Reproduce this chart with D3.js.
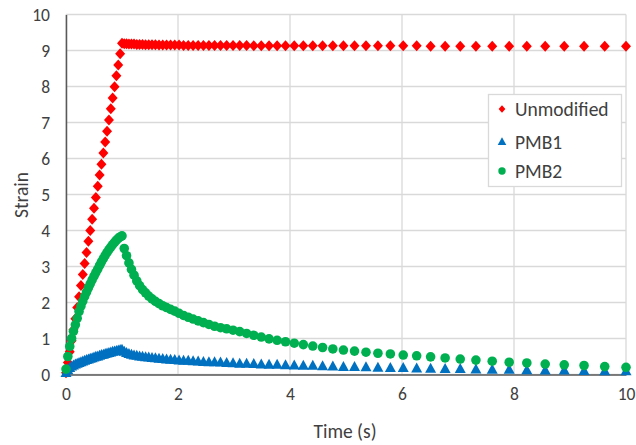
<!DOCTYPE html>
<html><head><meta charset="utf-8">
<script src="https://cdn.jsdelivr.net/npm/d3@7"></script>
<style>
body{margin:0;background:#fff;}
text{font-family:Carlito,Calibri,Lato,"Noto Sans",sans-serif;}
</style></head>
<body><svg id="c" width="636" height="445"></svg>
<script>
// ---- data ----
const time = [0,0.033,0.067,0.1,0.133,0.167,0.2,0.233,0.267,0.3,0.333,0.367,0.4,0.433,0.467,0.5,0.533,0.567,0.6,0.633,0.667,0.7,0.733,0.767,0.8,0.833,0.867,0.9,0.933,0.967,
  1,1.04,1.081,1.124,1.169,1.215,1.264,1.314,1.366,1.421,1.477,1.536,1.597,1.661,1.727,1.796,1.867,1.942,2.019,2.099,2.183,2.27,2.36,2.454,2.552,2.653,2.759,2.869,2.983,3.102,3.225,3.353,3.487,3.626,3.77,3.92,4.076,4.238,4.407,4.582,4.765,4.954,5.152,5.357,5.57,5.792,6.022,6.262,6.511,6.77,7.04,7.32,7.611,7.914,8.229,8.557,8.897,9.251,9.62,10];
const unmodified = [0.05,0.33,0.63,0.94,1.24,1.55,1.86,2.16,2.47,2.78,3.08,3.39,3.7,4.0,4.31,4.62,4.92,5.23,5.54,5.84,6.15,6.46,6.76,7.07,7.38,7.68,7.99,8.3,8.6,8.91,
  9.2,9.19,9.19,9.18,9.18,9.18,9.17,9.17,9.17,9.16,9.16,9.16,9.16,9.15,9.15,9.15,9.15,9.15,9.15,9.14,9.14,9.14,9.14,9.14,9.14,9.14,9.14,9.14,9.14,9.14,9.14,9.13,9.13,9.13,9.13,9.13,9.13,9.13,9.13,9.13,9.13,9.13,9.13,9.13,9.13,9.13,9.13,9.13,9.12,9.12,9.12,9.12,9.12,9.12,9.12,9.12,9.12,9.12,9.12,9.12];
const pmb1 = [0.04,0.12,0.18,0.22,0.25,0.28,0.3,0.32,0.34,0.36,0.38,0.4,0.42,0.44,0.45,0.47,0.49,0.5,0.52,0.54,0.55,0.57,0.58,0.6,0.61,0.63,0.64,0.65,0.67,0.68,
  0.69,0.63,0.6,0.57,0.55,0.53,0.52,0.5,0.49,0.48,0.47,0.46,0.45,0.44,0.43,0.42,0.41,0.4,0.39,0.38,0.38,0.37,0.36,0.35,0.34,0.34,0.33,0.32,0.31,0.3,0.3,0.29,0.28,0.27,0.27,0.26,0.25,0.24,0.24,0.23,0.22,0.21,0.21,0.2,0.19,0.18,0.18,0.17,0.16,0.15,0.15,0.14,0.13,0.13,0.12,0.11,0.11,0.1,0.09,0.09];
const pmb2 = [0.15,0.5,0.78,1.0,1.2,1.38,1.56,1.75,1.9,2.04,2.17,2.29,2.41,2.52,2.63,2.73,2.83,2.93,3.03,3.13,3.22,3.31,3.39,3.47,3.54,3.61,3.67,3.73,3.78,3.82,
  3.85,3.5,3.3,3.1,2.92,2.76,2.6,2.47,2.36,2.27,2.18,2.1,2.03,1.97,1.91,1.86,1.81,1.76,1.7,1.64,1.59,1.54,1.49,1.44,1.39,1.34,1.3,1.27,1.23,1.19,1.14,1.09,1.04,0.99,0.95,0.91,0.87,0.83,0.79,0.75,0.71,0.68,0.65,0.62,0.59,0.57,0.54,0.52,0.49,0.46,0.43,0.4,0.37,0.34,0.32,0.29,0.27,0.25,0.22,0.2];
const seriesNames = ["Unmodified","PMB1","PMB2"];
const seriesColors = ["#ff0000","#0070c0","#00b050"];
const xTicks = [0,2,4,6,8,10];
const yTicks = [0,1,2,3,4,5,6,7,8,9,10];
const xTitle = "Time (s)", yTitle = "Strain";

const svg = d3.select("#c");
const x = d3.scaleLinear().domain([0,10]).range([66,626]);
const y = d3.scaleLinear().domain([0,10]).range([374.5,14.5]);

// gridlines
svg.append("g").selectAll("line").data(yTicks).join("line")
  .attr("x1",x(0)).attr("x2",x(10)).attr("y1",d=>y(d)).attr("y2",d=>y(d))
  .attr("stroke","#d9d9d9").attr("stroke-width",1.3);
svg.append("g").selectAll("line").data(xTicks).join("line")
  .attr("y1",y(0)).attr("y2",y(10)).attr("x1",d=>x(d)).attr("x2",d=>x(d))
  .attr("stroke","#d9d9d9").attr("stroke-width",1.3);

// axes
const gx = svg.append("g").attr("transform",`translate(0,${y(0)})`)
  .call(d3.axisBottom(x).tickValues(xTicks).tickSize(0).tickPadding(13).tickFormat(d3.format("d")));
const gy = svg.append("g").attr("transform",`translate(${x(0)},0)`)
  .call(d3.axisLeft(y).tickValues(yTicks).tickSize(0).tickPadding(16).tickFormat(d3.format("d")));
[gx,gy].forEach(g=>{
  g.select(".domain").attr("stroke","#595959").attr("stroke-width",1.5);
  g.selectAll("text").attr("font-size","17.5px").attr("fill","#404040");
});

// markers
const diamond = "M0,-5.5L5,0L0,5.5L-5,0Z";
const tri = "M0,-6L5.5,4L-5.5,4Z";
const data = [unmodified,pmb1,pmb2];
const shapes = [diamond,tri,null];
data.forEach((vals,si)=>{
  const g = svg.append("g");
  const pts = time.map((t,i)=>({t,v:vals[i]}));
  if(shapes[si]){
    g.selectAll("path").data(pts).join("path")
      .attr("d",shapes[si]).attr("fill",seriesColors[si])
      .attr("transform",d=>`translate(${x(d.t)},${y(d.v)})`);
  } else {
    g.selectAll("circle").data(pts).join("circle")
      .attr("cx",d=>x(d.t)).attr("cy",d=>y(d.v)).attr("r",4.8).attr("fill",seriesColors[si]);
  }
});

// axis titles
svg.append("text").attr("x",345).attr("y",438).attr("text-anchor","middle")
  .attr("font-size","19.5px").attr("fill","#404040").text(xTitle);
svg.append("text").attr("transform","translate(28,195) rotate(-90)").attr("text-anchor","middle")
  .attr("font-size","19.5px").attr("fill","#404040").text(yTitle);

// legend
const lg = svg.append("g");
lg.append("rect").attr("x",488.5).attr("y",94.5).attr("width",133).attr("height",92)
  .attr("fill","#fff").attr("stroke","#d9d9d9").attr("stroke-width",1.3);
const legY = [109,142,171];
seriesNames.forEach((n,i)=>{
  const cy = legY[i], cx = 502;
  if(i===0) lg.append("path").attr("d","M0,-3.8L3.4,0L0,3.8L-3.4,0Z").attr("fill",seriesColors[i]).attr("transform",`translate(${cx},${cy})`);
  else if(i===1) lg.append("path").attr("d","M0,-4.8L4.3,2.9L-4.3,2.9Z").attr("fill",seriesColors[i]).attr("transform",`translate(${cx},${cy})`);
  else lg.append("circle").attr("cx",cx).attr("cy",cy).attr("r",3.7).attr("fill",seriesColors[i]);
  lg.append("text").attr("x",515).attr("y",cy).attr("dy","0.36em").attr("font-size","19.5px")
    .attr("fill","#404040").text(n);
});
</script></body></html>
